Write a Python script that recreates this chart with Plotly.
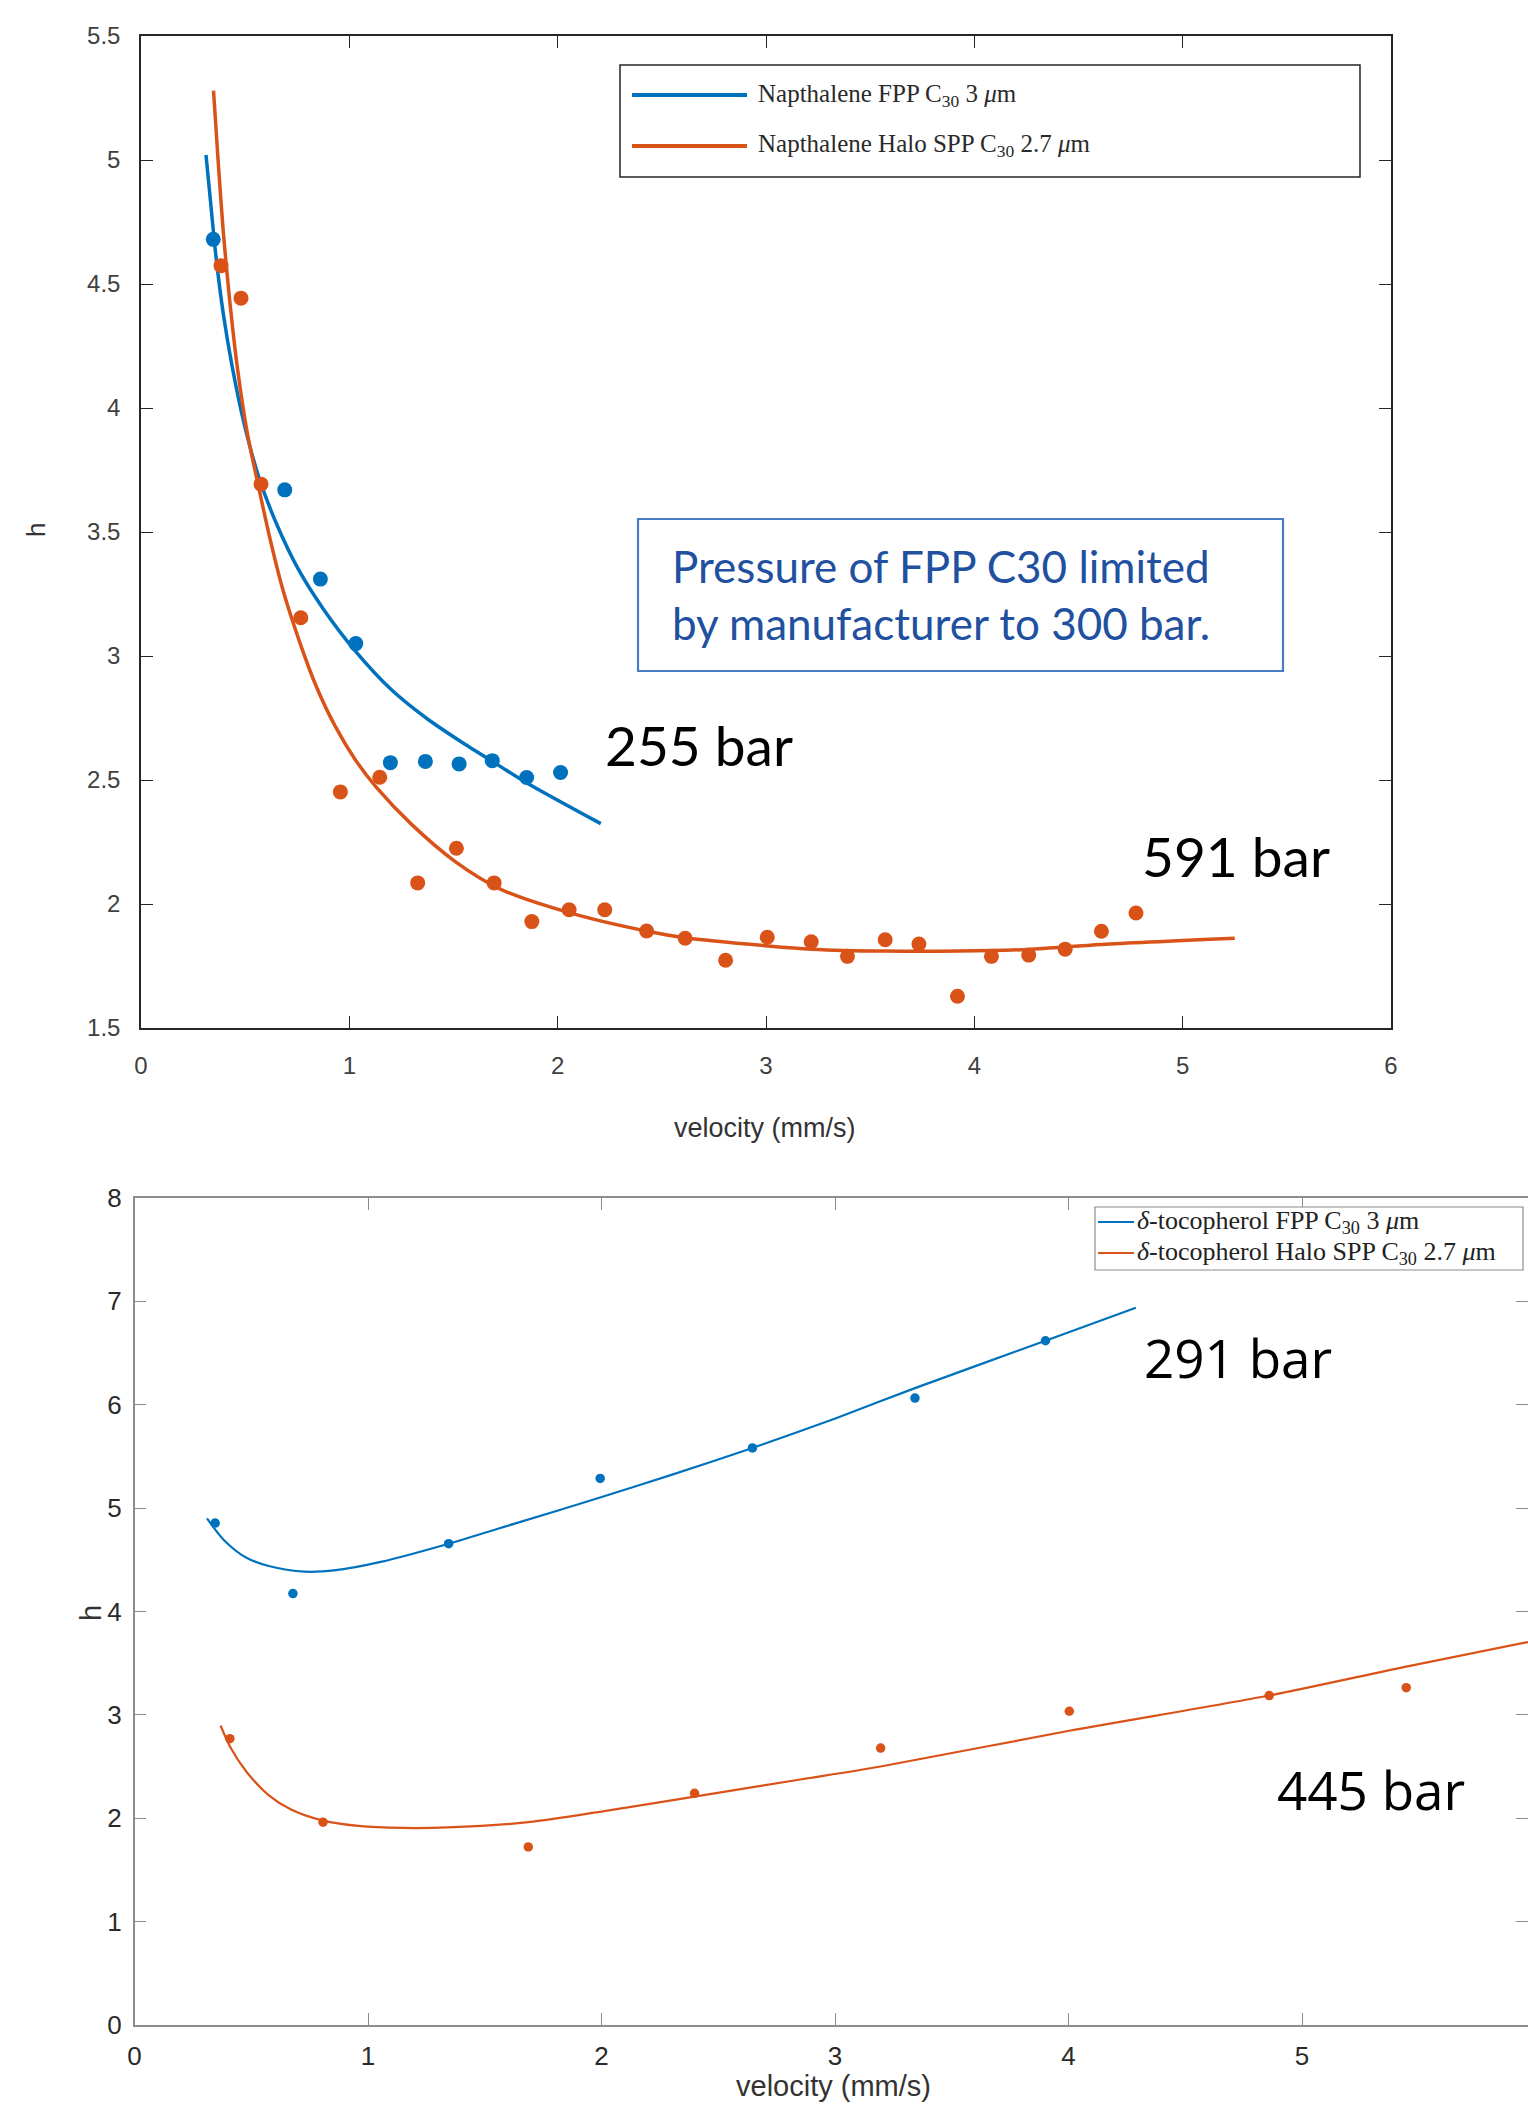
import plotly.graph_objects as go

# ---------------- data ----------------
# Top panel: Napthalene
napht_fpp_v = [0.347, 0.690, 0.861, 1.031, 1.197, 1.365, 1.527, 1.686, 1.851, 2.014]
napht_fpp_h = [4.68, 3.67, 3.31, 3.05, 2.57, 2.575, 2.565, 2.578, 2.51, 2.53]

napht_halo_v = [0.384, 0.480, 0.576, 0.767, 0.957, 1.146, 1.328, 1.514, 1.695, 1.876,
                2.055, 2.226, 2.427, 2.612, 2.806, 3.006, 3.217, 3.391, 3.572, 3.734,
                3.919, 4.082, 4.261, 4.436, 4.610, 4.776]
napht_halo_h = [4.574, 4.443, 3.693, 3.154, 2.452, 2.511, 2.085, 2.225, 2.085, 1.929,
                1.977, 1.977, 1.891, 1.862, 1.773, 1.866, 1.848, 1.789, 1.856, 1.839,
                1.628, 1.789, 1.794, 1.818, 1.890, 1.964]

napht_fpp_fit_v = [0.312, 0.334, 0.360, 0.395, 0.437, 0.497, 0.566, 0.652, 0.755, 0.875,
                   1.029, 1.201, 1.372, 1.544, 1.715, 1.848, 2.207]
napht_fpp_fit_h = [5.02, 4.83, 4.61, 4.38, 4.17, 3.93, 3.72, 3.53, 3.35, 3.19,
                   3.02, 2.865, 2.748, 2.650, 2.56, 2.49, 2.324]

napht_halo_fit_v = [0.348, 0.370, 0.395, 0.425, 0.463, 0.510, 0.570, 0.620, 0.680, 0.760,
                    0.840, 0.930, 1.030, 1.130, 1.300, 1.510, 1.725, 2.055, 2.430, 2.610,
                    3.010, 3.220, 3.570, 3.920, 4.260, 4.610, 5.250]
napht_halo_fit_h = [5.28, 5.00, 4.71, 4.44, 4.16, 3.90, 3.66, 3.47, 3.27, 3.06,
                    2.88, 2.72, 2.58, 2.47, 2.32, 2.17, 2.06, 1.965, 1.89, 1.864,
                    1.831, 1.818, 1.810, 1.810, 1.817, 1.837, 1.862]

# Bottom panel: delta-tocopherol
toco_fpp_v = [0.345, 0.678, 1.345, 1.994, 2.646, 3.342, 3.901]
toco_fpp_h = [4.855, 4.173, 4.656, 5.287, 5.582, 6.065, 6.619]

toco_halo_v = [0.408, 0.807, 1.686, 2.398, 3.195, 4.003, 4.859, 5.446]
toco_halo_h = [2.770, 1.962, 1.723, 2.241, 2.679, 3.035, 3.187, 3.263]

toco_fpp_fit_v = [0.310, 0.383, 0.479, 0.575, 0.728, 0.862, 1.054, 1.345, 1.628, 2.004,
                  2.299, 2.646, 3.004, 3.342, 3.901, 4.288]
toco_fpp_fit_h = [4.90, 4.69, 4.52, 4.44, 4.385, 4.40, 4.48, 4.656, 4.85, 5.11,
                  5.322, 5.582, 5.870, 6.161, 6.619, 6.939]

toco_halo_fit_v = [0.368, 0.412, 0.479, 0.575, 0.670, 0.807, 0.958, 1.149, 1.341, 1.686,
                   2.011, 2.398, 2.851, 3.195, 4.003, 4.859, 5.446, 5.971]
toco_halo_fit_h = [2.897, 2.679, 2.450, 2.221, 2.084, 1.977, 1.926, 1.906, 1.911, 1.962,
                   2.069, 2.210, 2.375, 2.501, 2.846, 3.187, 3.467, 3.706]

legend_top = ["Napthalene FPP C<sub>30</sub> 3 <i>μ</i>m",
              "Napthalene Halo SPP C<sub>30</sub> 2.7 <i>μ</i>m"]
legend_bottom = ["<i>δ</i>-tocopherol FPP C<sub>30</sub> 3 <i>μ</i>m",
                 "<i>δ</i>-tocopherol Halo SPP C<sub>30</sub> 2.7 <i>μ</i>m"]
pressure_note = "Pressure of FPP C30 limited<br>by manufacturer to 300 bar."
bar_labels_top = ["255 bar", "591 bar"]
bar_labels_bottom = ["291 bar", "445 bar"]

# ---------------- styling ----------------
W, H = 1528, 2105
BLUE = "#0072BD"
ORANGE = "#D95319"


def fx(p):
    return p / W


def fy(p):
    return 1 - p / H


fig = go.Figure()

# top panel
fig.add_trace(go.Scatter(x=napht_fpp_fit_v, y=napht_fpp_fit_h, mode="lines",
                         line=dict(color=BLUE, width=3.5, shape="spline", smoothing=0.8),
                         xaxis="x", yaxis="y", showlegend=False, name=legend_top[0]))
fig.add_trace(go.Scatter(x=napht_halo_fit_v, y=napht_halo_fit_h, mode="lines",
                         line=dict(color=ORANGE, width=3.5, shape="spline", smoothing=0.8),
                         xaxis="x", yaxis="y", showlegend=False, name=legend_top[1]))
fig.add_trace(go.Scatter(x=napht_fpp_v, y=napht_fpp_h, mode="markers",
                         marker=dict(color=BLUE, size=15),
                         xaxis="x", yaxis="y", showlegend=False))
fig.add_trace(go.Scatter(x=napht_halo_v, y=napht_halo_h, mode="markers",
                         marker=dict(color=ORANGE, size=15),
                         xaxis="x", yaxis="y", showlegend=False))

# bottom panel
fig.add_trace(go.Scatter(x=toco_fpp_fit_v, y=toco_fpp_fit_h, mode="lines",
                         line=dict(color=BLUE, width=2.2, shape="spline", smoothing=0.8),
                         xaxis="x2", yaxis="y2", showlegend=False, name=legend_bottom[0]))
fig.add_trace(go.Scatter(x=toco_halo_fit_v, y=toco_halo_fit_h, mode="lines",
                         line=dict(color=ORANGE, width=2.2, shape="spline", smoothing=0.8),
                         xaxis="x2", yaxis="y2", showlegend=False, name=legend_bottom[1]))
fig.add_trace(go.Scatter(x=toco_fpp_v, y=toco_fpp_h, mode="markers",
                         marker=dict(color=BLUE, size=9.5),
                         xaxis="x2", yaxis="y2", showlegend=False))
fig.add_trace(go.Scatter(x=toco_halo_v, y=toco_halo_h, mode="markers",
                         marker=dict(color=ORANGE, size=9.5),
                         xaxis="x2", yaxis="y2", showlegend=False))

top_axis = dict(showgrid=False, zeroline=False, showline=True, mirror="ticks",
                linecolor="#262626", linewidth=1.5, ticks="inside", ticklen=12,
                tickcolor="#262626", tickwidth=1.2,
                tickfont=dict(family="Liberation Sans, Arial", size=24, color="#404040"),
                automargin=False)
bot_axis = dict(showgrid=False, zeroline=False, showline=True, mirror="ticks",
                linecolor="#8c8c8c", linewidth=1.5, ticks="inside", ticklen=12,
                tickcolor="#8c8c8c", tickwidth=1,
                tickfont=dict(family="Liberation Sans, Arial", size=26, color="#2a2a2a"),
                automargin=False)

fig.update_layout(
    width=W, height=H,
    margin=dict(l=0, r=0, t=0, b=0),
    paper_bgcolor="white", plot_bgcolor="white",
    showlegend=False,
    xaxis=dict(top_axis, domain=[fx(141), fx(1391)], range=[0, 6], dtick=1,
               anchor="y", ticklabelstandoff=15),
    yaxis=dict(top_axis, domain=[fy(1028), fy(36)], range=[1.5, 5.5], dtick=0.5,
               anchor="x", ticklabelstandoff=14),
    xaxis2=dict(bot_axis, domain=[fx(134.6), 1.0], range=[0, (W - 134.6) / 233.5], dtick=1,
                anchor="y2", ticklabelstandoff=7),
    yaxis2=dict(bot_axis, domain=[fy(2025), fy(1198)], range=[0, 8], dtick=1,
                anchor="x2", ticklabelstandoff=6),
)

shapes = []
annotations = []

# axis titles
annotations.append(dict(text="velocity (mm/s)", x=fx(765), y=fy(1128), xref="paper", yref="paper",
                        showarrow=False, xanchor="center", yanchor="middle",
                        font=dict(family="Liberation Sans, Arial", size=27, color="#333333")))
annotations.append(dict(text="h", x=fx(36), y=fy(530), xref="paper", yref="paper",
                        showarrow=False, textangle=-90, xanchor="center", yanchor="middle",
                        font=dict(family="Liberation Sans, Arial", size=26, color="#333333")))
annotations.append(dict(text="velocity (mm/s)", x=fx(834), y=fy(2086), xref="paper", yref="paper",
                        showarrow=False, xanchor="center", yanchor="middle",
                        font=dict(family="Liberation Sans, Arial", size=29, color="#333333")))
annotations.append(dict(text="h", x=fx(91), y=fy(1613), xref="paper", yref="paper",
                        showarrow=False, textangle=-90, xanchor="center", yanchor="middle",
                        font=dict(family="Liberation Sans, Arial", size=29, color="#333333")))

# top legend (drawn box)
shapes.append(dict(type="rect", xref="paper", yref="paper",
                   x0=fx(620), x1=fx(1360), y0=fy(177), y1=fy(65),
                   line=dict(color="#262626", width=1.5), fillcolor="white", layer="above"))
for i, (txt, col) in enumerate(zip(legend_top, [BLUE, ORANGE])):
    yy = [95, 146][i]
    shapes.append(dict(type="line", xref="paper", yref="paper",
                       x0=fx(632), x1=fx(747), y0=fy(yy), y1=fy(yy),
                       line=dict(color=col, width=4), layer="above"))
    annotations.append(dict(text=txt, x=fx(756), y=fy(yy), xref="paper", yref="paper",
                            showarrow=False, xanchor="left", yanchor="middle",
                            font=dict(family="Liberation Serif, Times New Roman", size=25,
                                      color="#2a2a2a")))

# bottom legend (drawn box)
shapes.append(dict(type="rect", xref="paper", yref="paper",
                   x0=fx(1095), x1=fx(1523), y0=fy(1270), y1=fy(1207),
                   line=dict(color="#8c8c8c", width=1.2), fillcolor="white", layer="above"))
for i, (txt, col) in enumerate(zip(legend_bottom, [BLUE, ORANGE])):
    yy = [1222, 1253][i]
    shapes.append(dict(type="line", xref="paper", yref="paper",
                       x0=fx(1098), x1=fx(1134), y0=fy(yy), y1=fy(yy),
                       line=dict(color=col, width=2), layer="above"))
    annotations.append(dict(text=txt, x=fx(1135), y=fy(yy), xref="paper", yref="paper",
                            showarrow=False, xanchor="left", yanchor="middle",
                            font=dict(family="Liberation Serif, Times New Roman", size=26,
                                      color="#222222")))

# pressure note box
shapes.append(dict(type="rect", xref="paper", yref="paper",
                   x0=fx(638), x1=fx(1283), y0=fy(671), y1=fy(519),
                   line=dict(color="#4A7CC3", width=2.2), fillcolor="rgba(0,0,0,0)"))
annotations.append(dict(text=pressure_note, x=fx(670), y=fy(594), xref="paper", yref="paper",
                        showarrow=False, xanchor="left", yanchor="middle", align="left",
                        font=dict(family="Lato", size=44, color="#2150A0")))

# pressure labels
annotations.append(dict(text=bar_labels_top[0], x=fx(603), y=fy(745), xref="paper", yref="paper",
                        showarrow=False, xanchor="left", yanchor="middle",
                        font=dict(family="Lato", size=55, color="black")))
annotations.append(dict(text=bar_labels_top[1], x=fx(1140), y=fy(856), xref="paper", yref="paper",
                        showarrow=False, xanchor="left", yanchor="middle",
                        font=dict(family="Lato", size=55, color="black")))
annotations.append(dict(text=bar_labels_bottom[0], x=fx(1142), y=fy(1357), xref="paper", yref="paper",
                        showarrow=False, xanchor="left", yanchor="middle",
                        font=dict(family="Open Sans", size=53, color="black")))
annotations.append(dict(text=bar_labels_bottom[1], x=fx(1275), y=fy(1789), xref="paper", yref="paper",
                        showarrow=False, xanchor="left", yanchor="middle",
                        font=dict(family="Open Sans", size=53, color="black")))

fig.update_layout(shapes=shapes, annotations=annotations)

fig.write_html("out.html")
